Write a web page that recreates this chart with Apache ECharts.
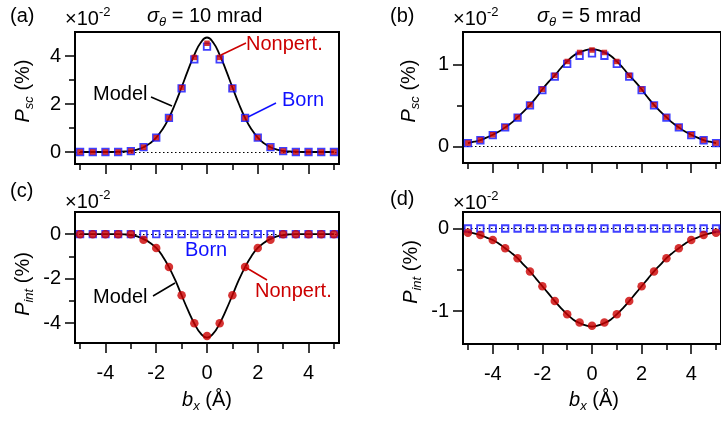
<!DOCTYPE html>
<html><head><meta charset="utf-8">
<script src="https://cdn.jsdelivr.net/npm/echarts@6/dist/echarts.min.js"></script>
<style>html,body{margin:0;padding:0;background:#fff}#c{width:721px;height:423px}</style>
</head><body><div id="c"></div>
<script>
// ---- data ----
const xPts = [-5,-4.5,-4,-3.5,-3,-2.5,-2,-1.5,-1,-0.5,0,0.5,1,1.5,2,2.5,3,3.5,4,4.5,5];
const xModel = [-5,-4.75,-4.5,-4.25,-4,-3.75,-3.5,-3.25,-3,-2.75,-2.5,-2.25,-2,-1.75,-1.5,-1.25,-1,-0.75,-0.5,-0.25,0,
  0.25,0.5,0.75,1,1.25,1.5,1.75,2,2.25,2.5,2.75,3,3.25,3.5,3.75,4,4.25,4.5,4.75,5];

const aNonpert = [0,0,0,0,0.04,0.2,0.6,1.42,2.68,3.94,4.53,3.94,2.68,1.42,0.6,0.2,0.04,0,0,0,0];
const aBorn    = [0,0,0,0,0.04,0.2,0.6,1.42,2.65,3.86,4.39,3.86,2.65,1.42,0.6,0.2,0.04,0,0,0,0];
const aModel   = [0,0,0,0,0,0,0.01,0.02,0.05,0.1,0.2,0.36,0.6,0.95,1.42,2.02,2.7,3.4,4.05,4.55,4.77,
  4.55,4.05,3.4,2.7,2.02,1.42,0.95,0.6,0.36,0.2,0.1,0.05,0.02,0.01,0,0,0,0,0,0];

const bNonpert = [0.044,0.08,0.145,0.24,0.36,0.51,0.70,0.87,1.04,1.15,1.18,1.15,1.04,0.87,0.70,0.51,0.36,0.24,0.145,0.08,0.044];
const bBorn    = [0.043,0.078,0.14,0.235,0.355,0.505,0.69,0.855,1.01,1.11,1.14,1.11,1.01,0.855,0.69,0.505,0.355,0.235,0.14,0.078,0.043];
const bModel   = [0.044,0.06,0.08,0.11,0.145,0.185,0.235,0.29,0.36,0.43,0.51,0.60,0.70,0.79,0.87,0.96,1.04,1.11,1.15,1.18,1.19,
  1.18,1.15,1.11,1.04,0.96,0.87,0.79,0.70,0.60,0.51,0.43,0.36,0.29,0.235,0.185,0.145,0.11,0.08,0.06,0.044];

const cNonpert = [0,0,0,0,0,-0.25,-0.62,-1.48,-2.75,-4.01,-4.59,-4.01,-2.75,-1.48,-0.62,-0.25,0,0,0,0,0];
const cBorn    = [0,0,0,0,0,0,0,0,0,0,0,0,0,0,0,0,0,0,0,0,0];
const cModel   = [0,0,0,0,0,0,0,-0.01,-0.04,-0.1,-0.22,-0.38,-0.62,-0.99,-1.48,-2.07,-2.75,-3.42,-4.02,-4.47,-4.66,
  -4.47,-4.02,-3.42,-2.75,-2.07,-1.48,-0.99,-0.62,-0.38,-0.22,-0.1,-0.04,-0.01,0,0,0,0,0,0,0];

const dNonpert = [-0.05,-0.08,-0.14,-0.24,-0.36,-0.52,-0.70,-0.88,-1.04,-1.14,-1.18,-1.14,-1.04,-0.88,-0.70,-0.52,-0.36,-0.24,-0.14,-0.08,-0.05];
const dBorn    = [0,0,0,0,0,0,0,0,0,0,0,0,0,0,0,0,0,0,0,0,0];
const dModel   = [-0.045,-0.06,-0.08,-0.11,-0.14,-0.185,-0.24,-0.295,-0.36,-0.44,-0.52,-0.61,-0.70,-0.79,-0.88,-0.965,-1.04,-1.105,-1.145,-1.175,-1.19,
  -1.175,-1.145,-1.105,-1.04,-0.965,-0.88,-0.79,-0.70,-0.61,-0.52,-0.44,-0.36,-0.295,-0.24,-0.185,-0.14,-0.11,-0.08,-0.06,-0.045];

const xMajorTicks = [-4,-2,0,2,4];
const xMinorTicks = [-5,-3,-1,1,3,5];
const yMajorA = [0,2,4],   yMinorA = [1,3];
const yMajorB = [0,1],     yMinorB = [0.5];
const yMajorC = [0,-2,-4], yMinorC = [-1,-3];
const yMajorD = [0,-1],    yMinorD = [-0.5];

const yRangeA = [-0.5,5], yRangeB = [-0.2,1.4], yRangeC = [-4.9,1], yRangeD = [-1.4,0.2];
const xRange = [-5.2,5.2];

// ---- styling ----
const FONT = '"Liberation Sans", Arial, sans-serif';
const RED = '#cc0000', BLUE = '#1010ff';
const grids = [
  {left:75, top:32, width:264, height:132},
  {left:463, top:32, width:264, height:131},
  {left:75, top:212, width:264, height:131},
  {left:463, top:212, width:264, height:132}
];
const panels = [
  {mj:yMajorA, mn:yMinorA, r:yRangeA, xl:false},
  {mj:yMajorB, mn:yMinorB, r:yRangeB, xl:false},
  {mj:yMajorC, mn:yMinorC, r:yRangeC, xl:true},
  {mj:yMajorD, mn:yMinorD, r:yRangeD, xl:true}
];
const xAxis = [], yAxis = [];
panels.forEach((p,i)=>{
  xAxis.push({type:'value', gridIndex:i, min:xRange[0], max:xRange[1], position:'bottom',
    axisLine:{show:true, onZero:false, lineStyle:{color:'#000', width:2}},
    axisTick:{show:true, length:10, lineStyle:{color:'#000', width:1.5}, customValues:xMajorTicks},
    axisLabel:{show:p.xl, customValues:xMajorTicks, margin:20, fontSize:20, color:'#000', fontFamily:FONT},
    splitLine:{show:false}});
  xAxis.push({type:'value', gridIndex:i, min:xRange[0], max:xRange[1], position:'bottom',
    axisLine:{show:false, onZero:false},
    axisTick:{show:true, length:6, lineStyle:{color:'#000', width:1.5}, customValues:xMinorTicks},
    axisLabel:{show:false}, splitLine:{show:false}});
  yAxis.push({type:'value', gridIndex:i, min:p.r[0], max:p.r[1], position:'left',
    axisLine:{show:true, onZero:false, lineStyle:{color:'#000', width:2}},
    axisTick:{show:true, length:10, lineStyle:{color:'#000', width:1.5}, customValues:p.mj},
    axisLabel:{show:true, customValues:p.mj, margin:14, fontSize:20, color:'#000', fontFamily:FONT},
    splitLine:{show:false}});
  yAxis.push({type:'value', gridIndex:i, min:p.r[0], max:p.r[1], position:'left',
    axisLine:{show:false, onZero:false},
    axisTick:{show:true, length:6, lineStyle:{color:'#000', width:1.5}, customValues:p.mn},
    axisLabel:{show:false}, splitLine:{show:false}});
});

function pairs(xs, ys){ return xs.map((x,k)=>[x, ys[k]]); }
const series = [];
const sets = [
  {m:aModel, b:aBorn, n:aNonpert, circ:false},
  {m:bModel, b:bBorn, n:bNonpert, circ:false},
  {m:cModel, b:cBorn, n:cNonpert, circ:true},
  {m:dModel, b:dBorn, n:dNonpert, circ:true}
];
sets.forEach((s,i)=>{
  series.push({type:'line', xAxisIndex:2*i, yAxisIndex:2*i, data:pairs(xModel, s.m), smooth:0.5,
    showSymbol:false, lineStyle:{color:'#000', width:1.8}, z:2, silent:true, animation:false,
    markLine:{silent:true, symbol:'none', label:{show:false}, lineStyle:{color:'#000', type:[1.5,2.5], width:1.2},
      data:[{yAxis:0}], z:1, animation:false}});
  series.push({type:'scatter', xAxisIndex:2*i, yAxisIndex:2*i, data:pairs(xPts, s.b), symbol:'rect', symbolSize:6.5,
    itemStyle:{color:'rgba(0,0,0,0)', borderColor:BLUE, borderWidth:1.8}, z:3, silent:true, animation:false});
  series.push({type:'scatter', xAxisIndex:2*i, yAxisIndex:2*i, data:pairs(xPts, s.n), symbol:s.circ?'circle':'rect',
    symbolSize:s.circ?8.5:5.5, itemStyle:{color:RED}, z:4, silent:true, animation:false});
});

// ---- text ----
const base = {fontFamily:FONT, fontSize:20, fill:'#000'};
const rich = {
  n:{fontFamily:FONT, fontSize:20, lineHeight:26, color:'#000'},
  i:{fontFamily:FONT, fontSize:20, lineHeight:26, fontStyle:'italic', color:'#000'},
  s:{fontFamily:FONT, fontSize:13, lineHeight:13, fontStyle:'italic', verticalAlign:'bottom', color:'#000'},
  u:{fontFamily:FONT, fontSize:13, lineHeight:13, verticalAlign:'top', color:'#000'}
};
function T(x,y,text,opts){
  opts = opts||{};
  return {type:'text', x:x, y:y, rotation:opts.rot||0, silent:true, z:10,
    style:Object.assign({text:text, rich:rich, textAlign:opts.align||'left', textVerticalAlign:'middle'}, base, opts.style||{})};
}
function L(x1,y1,x2,y2,c){
  return {type:'line', silent:true, z:10, shape:{x1:x1,y1:y1,x2:x2,y2:y2}, style:{stroke:c, lineWidth:1.5}};
}
const graphic = [
  T(10,16,'(a)'), T(390,16,'(b)'), T(10,191,'(c)'), T(390,199,'(d)'),
  T(65,19,'{n|×10}{u|-2}'), T(453,19,'{n|×10}{u|-2}'), T(65,202,'{n|×10}{u|-2}'), T(453,203,'{n|×10}{u|-2}'),
  T(147,16,'{i|σ}{s|θ}{n| = 10 mrad}'), T(537,16,'{i|σ}{s|θ}{n| = 5 mrad}'),
  T(23,91,'{i|P}{s|sc}{n| (%)}', {rot:Math.PI/2, align:'center'}),
  T(409,91,'{i|P}{s|sc}{n| (%)}', {rot:Math.PI/2, align:'center'}),
  T(23,284,'{i|P}{s|int}{n| (%)}', {rot:Math.PI/2, align:'center'}),
  T(411,272,'{i|P}{s|int}{n| (%)}', {rot:Math.PI/2, align:'center'}),
  T(207,400,'{i|b}{s|x}{n| (Å)}', {align:'center'}),
  T(594,400,'{i|b}{s|x}{n| (Å)}', {align:'center'}),
  // annotations (a)
  T(246,44,'Nonpert.', {style:{fill:RED}}), L(221,55,246,43,RED),
  T(282,100,'Born', {style:{fill:BLUE}}), L(248,117,276,103,BLUE),
  T(93,94,'Model'), L(151,97,172,106,'#000'),
  // annotations (c)
  T(185,250,'Born', {style:{fill:BLUE}}),
  T(93,297,'Model'), L(153,296,175,283,'#000'),
  T(255,291,'Nonpert.', {style:{fill:RED}}), L(245,267,267,280,RED)
];

const chart = echarts.init(document.getElementById('c'), null, {renderer:'canvas'});
chart.setOption({
  animation:false,
  backgroundColor:'#fff',
  grid: grids.map(g=>Object.assign({show:true, borderColor:'#000', borderWidth:2, backgroundColor:'transparent', containLabel:false}, g)),
  xAxis: xAxis, yAxis: yAxis, series: series, graphic: graphic
});
</script></body></html>
